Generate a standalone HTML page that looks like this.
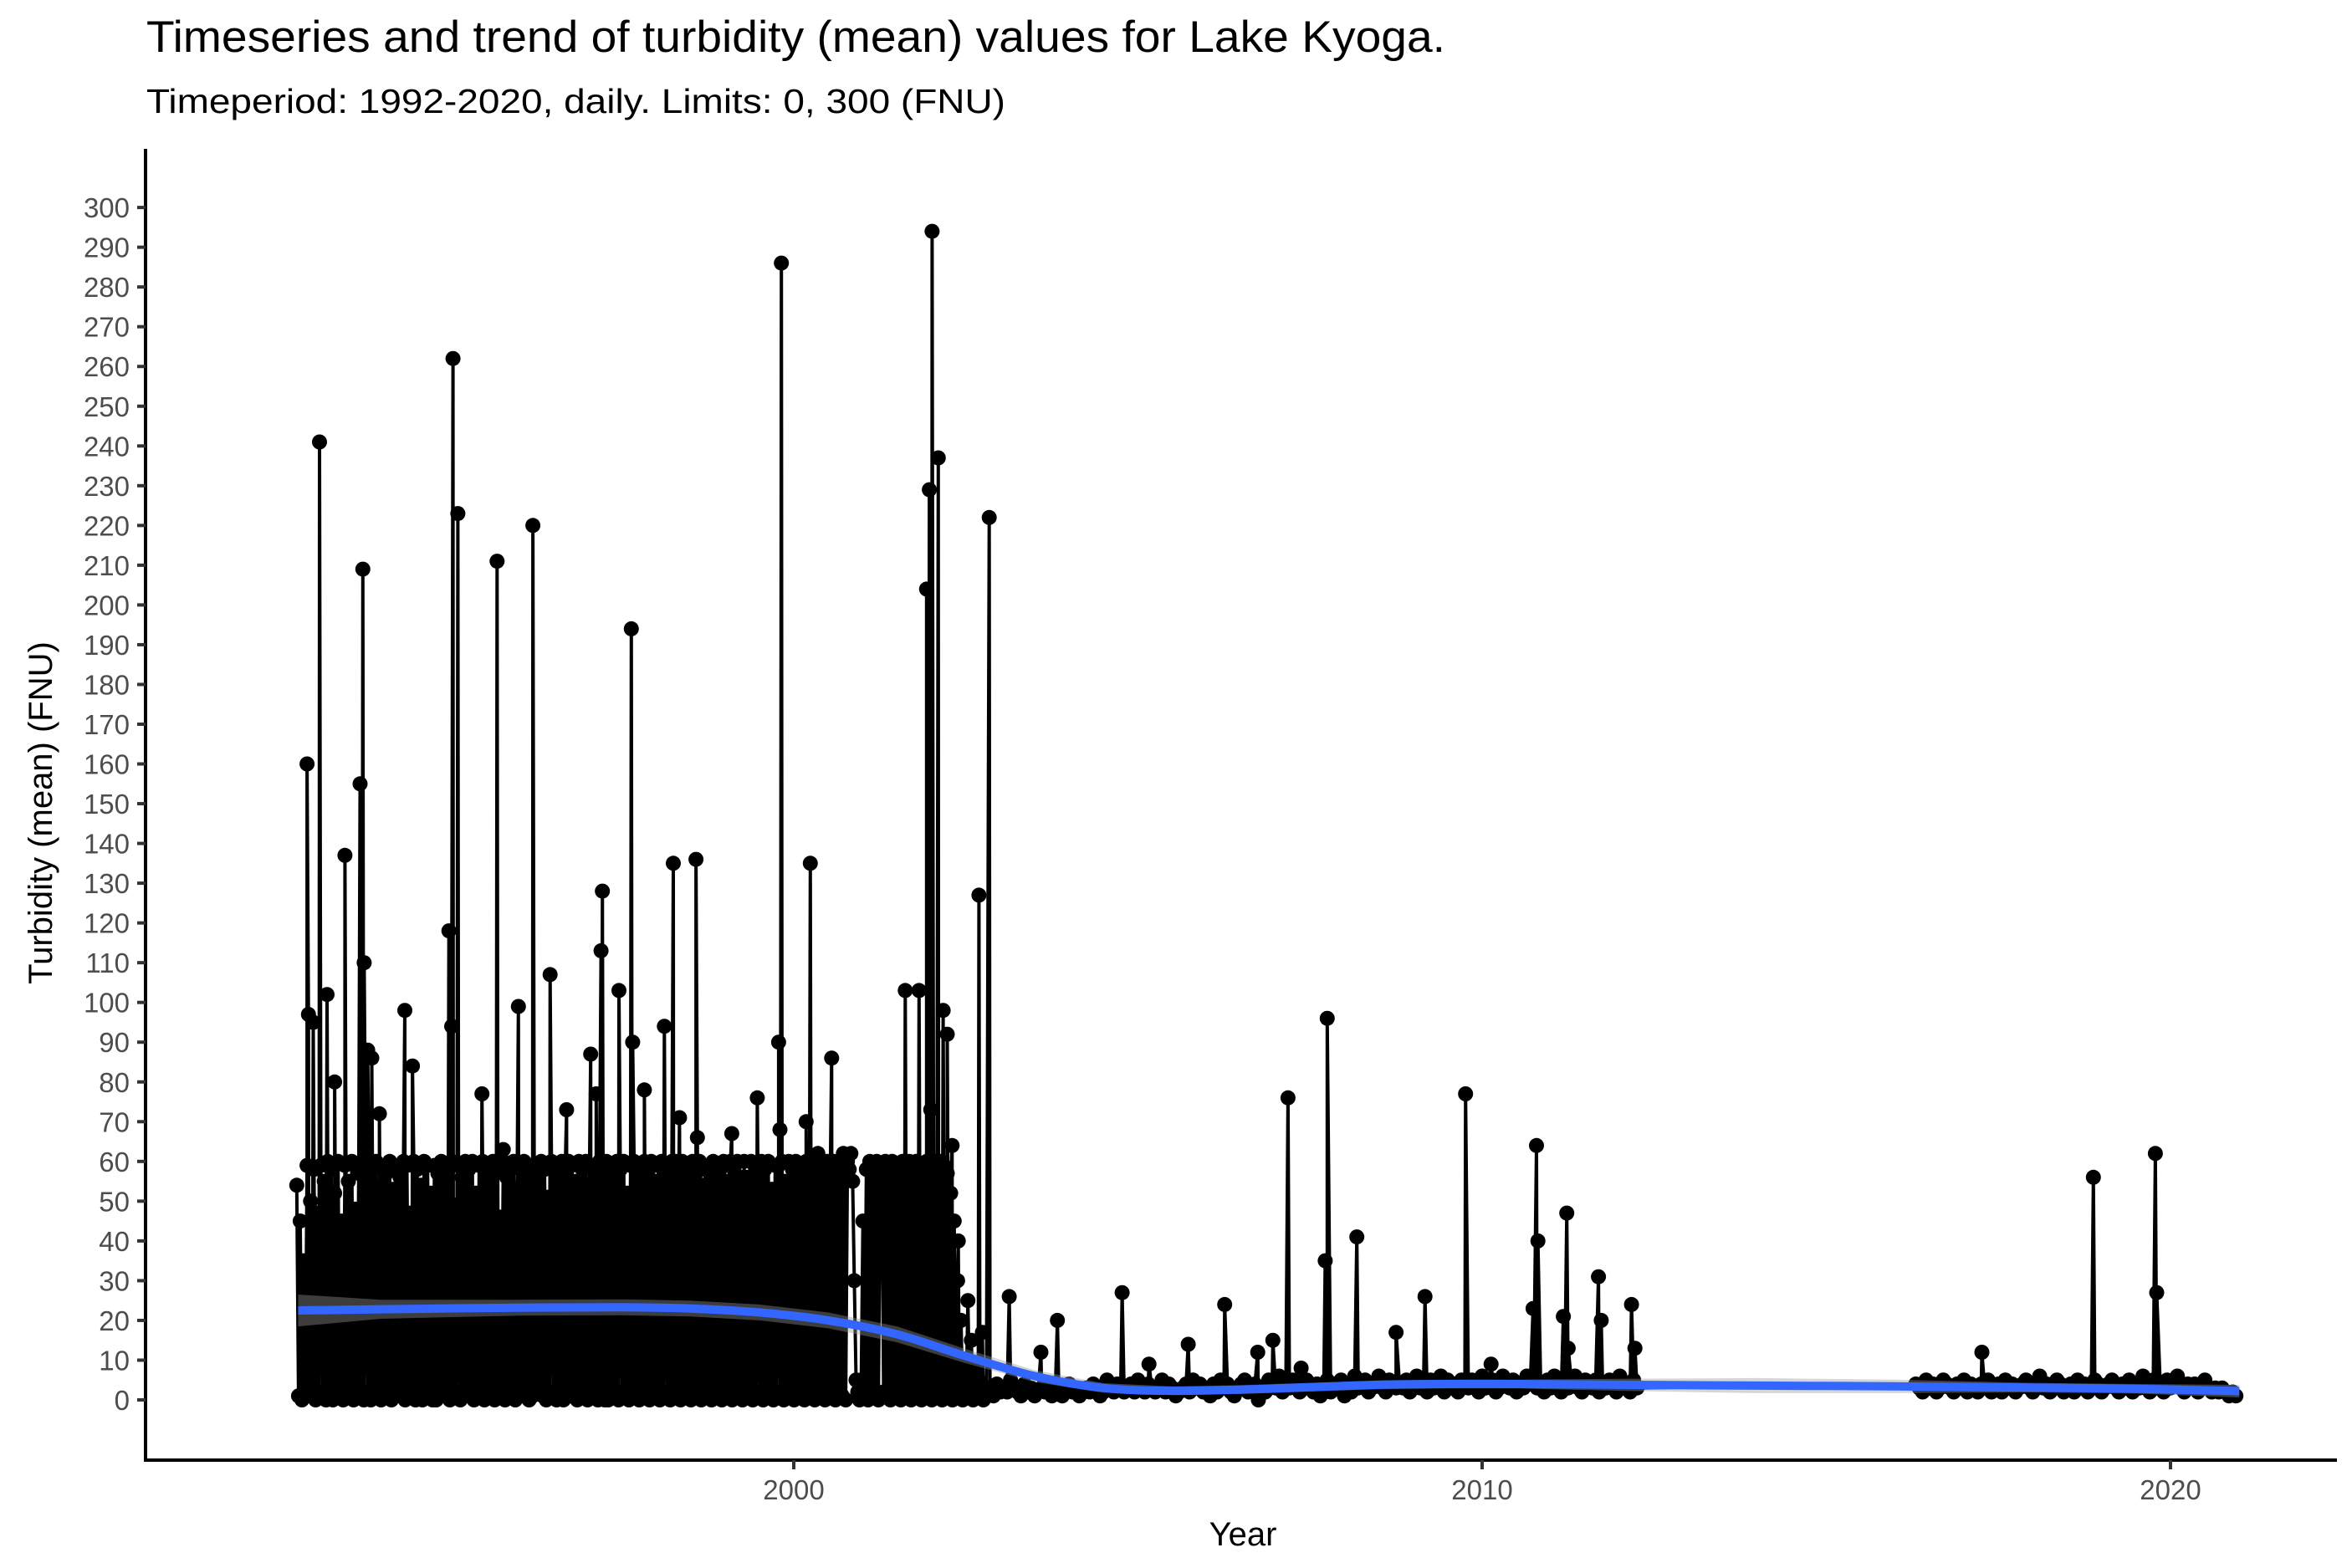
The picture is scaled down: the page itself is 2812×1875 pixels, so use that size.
<!DOCTYPE html>
<html><head><meta charset="utf-8"><title>Turbidity Lake Kyoga</title>
<style>html,body{margin:0;padding:0;background:#fff}svg{display:block}</style></head>
<body>
<svg id="chart" xmlns="http://www.w3.org/2000/svg" width="2812" height="1875" viewBox="0 0 2812 1875" font-family="'Liberation Sans', Arial, sans-serif">
<rect width="2812" height="1875" fill="#fff"/>
<text x="175" y="62" font-size="53" fill="#000" textLength="1553" lengthAdjust="spacingAndGlyphs">Timeseries and trend of turbidity (mean) values for Lake Kyoga.</text>
<text x="175" y="135" font-size="41" fill="#000" textLength="1027" lengthAdjust="spacingAndGlyphs">Timeperiod: 1992-2020, daily. Limits: 0, 300 (FNU)</text>
<g id="marks"></g>
<g id="axes"></g>
<text x="1486" y="1848" font-size="40" text-anchor="middle" fill="#000">Year</text>
<text transform="translate(62,972) rotate(-90)" font-size="40" text-anchor="middle" fill="#000">Turbidity (mean) (FNU)</text>
</svg>
<script>
const denseStart = 1992.78, denseStep = 0.025;
const denseValues = [
54,1,45,0,35,2,59,1,50,3,58,0,47,2,59,1,55,0,60,2,
58,0,52,2,60,1,45,0,59,3,55,1,60,0,48,2,57,1,60,0,
60,2,55,0,58,1,60,3,50,0,59,2,57,1,60,0,53,1,58,2,
56,1,60,0,59,2,47,1,60,0,58,3,54,0,60,1,59,2,52,0,
59,0,57,2,60,1,55,3,58,0,60,1,49,2,59,0,56,1,60,2,
58,1,60,0,52,2,59,1,60,0,57,3,55,1,60,0,58,2,46,1,
60,0,56,2,59,1,60,0,53,2,58,1,60,3,57,0,59,1,55,2,
57,2,60,1,58,0,51,1,60,2,59,0,56,1,60,0,58,3,60,1,
59,1,55,0,60,2,58,1,60,0,54,2,59,1,57,0,60,2,58,0,
60,0,59,3,56,1,60,0,58,2,60,1,52,0,59,2,60,1,57,0,
58,2,60,1,57,0,60,3,55,1,59,0,60,2,58,1,56,0,60,1,
60,1,58,0,60,2,56,1,59,0,60,3,57,1,60,0,54,2,59,1,
57,0,60,2,59,1,58,0,60,1,55,2,60,0,58,1,60,3,56,0,
60,2,56,1,60,0,59,2,57,1,60,0,58,2,60,1,53,0,59,2,
59,1,60,0,55,2,60,1,58,0,60,3,57,1,59,0,60,2,58,1,
58,0,59,2,60,1,57,0,60,2,56,1,60,0,59,3,58,1,60,0,
60,58,62,55,30,5,2,0,5,45,1,58,0,60,2,57,1,60,0,55,
59,2,60,1,58,0,60,3,56,1,59,0,60,2,57,1,60,0,58,2,
60,1,57,0,59,2,60,1,58,0,60,3,55,1,60,0,59,2,57,1,
52,0,45,3,30,1,20,0,10,2,25,1,15,0,8,2,5,1,3,0];
const midStart = 2002.8, midStep = 0.05;
const midValues = [
2,3,1,4,2,3,2,5,3,2,1,4,2,3,1,2,3,2,4,1,
2,3,1,2,4,2,3,1,2,3,2,4,3,1,2,5,3,2,4,3,
2,3,4,2,5,3,2,4,3,2,3,5,2,4,3,1,2,3,4,2,
5,3,4,2,3,1,4,2,5,3,4,2,1,3,4,5,2,3,4,0,
3,2,5,4,3,6,2,4,3,5,4,2,3,5,3,2,4,1,3,5,
2,4,3,5,1,4,2,6,3,4,5,2,3,4,6,3,2,5,4,3,
4,3,5,2,4,6,3,4,2,5,3,4,6,2,5,3,4,2,5,4,
3,5,4,2,6,3,4,5,2,3,6,4,3,5,2,4,3,6,4,5,
3,4,2,5,3,6,4,2,5,3,4,6,3,2,5,4,3,5,2,4,
3,5,4,2,6,3,4,2,5,3];
const lateStart = 2016.3, lateStep = 0.05;
const lateValues = [
4,3,2,5,3,4,2,3,5,4,3,2,4,3,5,2,4,3,2,4,
3,5,2,3,4,2,5,3,4,2,3,4,5,3,2,4,6,3,4,2,
3,5,4,2,3,4,2,5,3,4,2,3,5,4,2,3,4,5,3,2,
4,3,5,2,4,3,6,4,2,5,3,4,2,5,3,4,6,3,2,4,
3,4,2,3,5,3,2,3,2,3,2,1,2,1];
const spikeYears = [1992.93,1992.95,1993.02,1993.11,1993.22,1993.33,1993.48,1993.70,1993.74,1993.76,1993.81,1993.87,1993.98,1994.35,1994.46,1994.99,1995.03,1995.05,1995.12,1995.47,1995.69,1995.78,1996.00,1996.21,1996.46,1996.70,1997.05,1997.13,1997.20,1997.22,1997.46,1997.64,1997.66,1997.83,1998.12,1998.25,1998.34,1998.58,1998.60,1999.10,1999.47,1999.78,1999.80,1999.82,2000.18,2000.24,2000.35,2000.55,2000.72,2001.62,2001.82,2001.93,2001.97,2001.99,2002.01,2002.10,2002.17,2002.23,2002.30,2002.39,2002.69,2002.74,2002.84,2003.13,2003.59,2003.83,2004.77,2005.16,2005.73,2006.26,2006.74,2006.96,2007.18,2007.37,2007.72,2007.75,2008.18,2008.75,2009.17,2009.76,2010.13,2010.74,2010.79,2010.81,2011.18,2011.23,2011.25,2011.69,2011.73,2012.17,2012.22,2017.26,2018.88,2019.78,2019.80];
const spikeValues = [160,97,95,241,102,80,137,155,209,110,88,86,72,98,84,118,94,262,223,77,211,63,99,220,107,73,87,77,113,128,103,194,90,78,94,135,71,136,66,67,76,90,68,286,70,135,62,86,62,103,103,204,229,73,294,237,98,92,64,40,127,17,222,26,12,20,27,9,14,24,12,15,76,8,35,96,41,17,26,77,9,23,64,40,21,47,13,31,20,24,13,12,56,62,27];
const trendYears = [1992.8,1994,1996,1997.5,1998.5,1999.5,2000.5,2001.5,2002.5,2003.5,2004.5,2005.5,2006.5,2007.5,2008.5,2009.5,2010.5,2012,2014,2016,2018,2019.5,2021];
const trendValues = [22.5,22.8,23.2,23.3,23,22,20,16.5,11,6,3,2.3,2.6,3.2,3.8,4.0,4.0,3.8,3.6,3.4,3.1,2.8,2.2];
const trendSE = [4,2.4,2,2,2,2,2,2,1.8,1.5,1.2,1.1,1.1,1.1,1.1,1.1,1.1,1.5,1.9,1.7,1.2,1.2,1.6];
const yTicks = [0,10,20,30,40,50,60,70,80,90,100,110,120,130,140,150,160,170,180,190,200,210,220,230,240,250,260,270,280,290,300];
const xTicks = [2000,2010,2020];

const NS = 'http://www.w3.org/2000/svg';
function xS(t){ return 949 + (t - 2000) * 82.3; }
function yS(v){ return 1674 - v * 4.753; }
function mk(tag, attrs, parent){ const e = document.createElementNS(NS, tag); for (const k in attrs) e.setAttribute(k, attrs[k]); parent.appendChild(e); return e; }

const pts = [];
denseValues.forEach((v,i)=>pts.push([denseStart + i*denseStep, v]));
midValues.forEach((v,i)=>pts.push([midStart + i*midStep, v]));
lateValues.forEach((v,i)=>pts.push([lateStart + i*lateStep, v]));
spikeYears.forEach((t,i)=>pts.push([t, spikeValues[i]]));
pts.sort((a,b)=>a[0]-b[0]);

const marks = document.getElementById('marks');
const line = mk('path', {d: pts.map((p,i)=>(i?'L':'M')+xS(p[0]).toFixed(1)+','+yS(p[1]).toFixed(1)).join(''), fill:'none', stroke:'#000', 'stroke-width':4, 'stroke-linejoin':'round'}, marks);


pts.forEach(p=>{
  const c = mk('circle', {cx:xS(p[0]).toFixed(1), cy:yS(p[1]).toFixed(1), r:9, fill:'#000'}, marks);
  
  
});
let up = trendYears.map((t,i)=>xS(t).toFixed(1)+','+yS(trendValues[i]+trendSE[i]).toFixed(1));
let dn = trendYears.map((t,i)=>xS(t).toFixed(1)+','+yS(trendValues[i]-trendSE[i]).toFixed(1)).reverse();
const rib = mk('polygon', {points: up.concat(dn).join(' '), fill:'rgb(153,153,153)', 'fill-opacity':0.4}, marks);


const tp = trendYears.map((t,i)=>[xS(t), yS(trendValues[i])]);
let d = 'M'+tp[0][0]+','+tp[0][1];
for (let i=0;i<tp.length-1;i++){
  const p0=tp[Math.max(0,i-1)], p1=tp[i], p2=tp[i+1], p3=tp[Math.min(tp.length-1,i+2)];
  d += 'C'+(p1[0]+(p2[0]-p0[0])/6).toFixed(1)+','+(p1[1]+(p2[1]-p0[1])/6).toFixed(1)+' '+(p2[0]-(p3[0]-p1[0])/6).toFixed(1)+','+(p2[1]-(p3[1]-p1[1])/6).toFixed(1)+' '+p2[0].toFixed(1)+','+p2[1].toFixed(1);
}
const tr = mk('path', {d:d, fill:'none', stroke:'#3366FF', 'stroke-width':10}, marks);



const axes = document.getElementById('axes');
const ya = mk('line', {x1:174, y1:178, x2:174, y2:1748, stroke:'#000', 'stroke-width':4}, axes);


const xa = mk('line', {x1:172, y1:1746, x2:2794, y2:1746, stroke:'#000', 'stroke-width':4}, axes);


yTicks.forEach(v=>{
  const y = yS(v);
  const tk = mk('line', {x1:164, y1:y, x2:174, y2:y, stroke:'#333', 'stroke-width':4}, axes);
  
  
  const tx = mk('text', {x:155, y:y+12, 'font-size':33, 'text-anchor':'end', fill:'#4d4d4d'}, axes);
  tx.textContent = v;
  
  
});
xTicks.forEach(t=>{
  const x = xS(t);
  const tk = mk('line', {x1:x, y1:1746, x2:x, y2:1757, stroke:'#333', 'stroke-width':4}, axes);
  
  
  const tx = mk('text', {x:x, y:1793, 'font-size':33, 'text-anchor':'middle', fill:'#4d4d4d'}, axes);
  tx.textContent = t;
  
  
});
</script>
</body></html>
